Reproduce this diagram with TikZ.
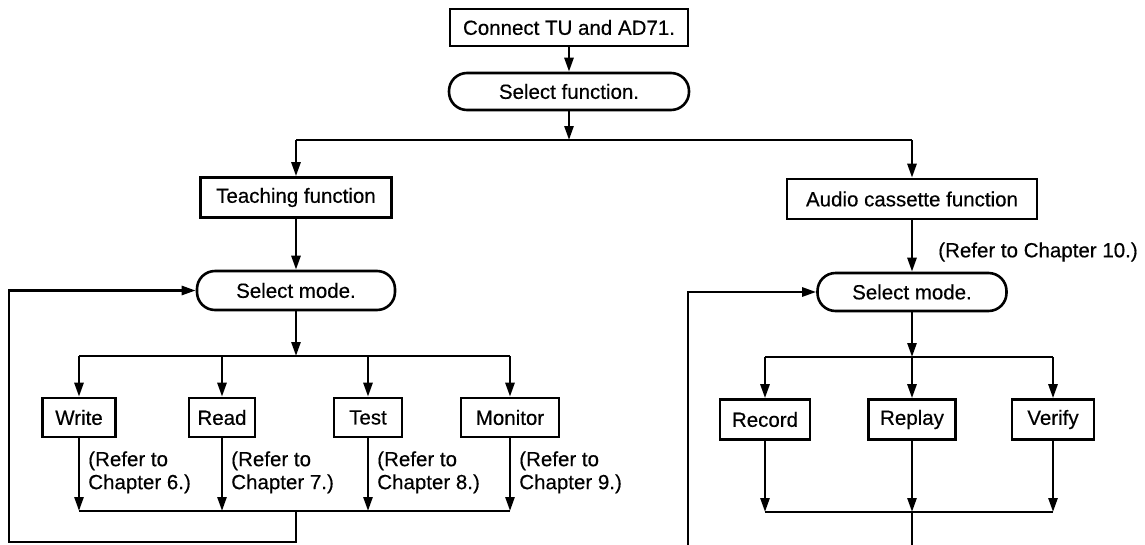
\documentclass[tikz,border=0pt]{standalone}
\usepackage{fontspec}
\setmainfont{Liberation Sans}
\newfontfamily\diafont[FakeBold=0.4]{Liberation Sans}
\usetikzlibrary{arrows.meta}
\begin{document}
\begin{tikzpicture}[x=1pt,y=-1pt,
  line width=2.6pt,
  txt/.style={font=\diafont\fontsize{20.5}{23}\selectfont},
  box/.style={txt,draw,rectangle,minimum height=39pt,inner sep=0pt,line width=2.6pt},
  term/.style={txt,draw,rectangle,rounded corners=18pt,minimum height=38pt,inner sep=0pt,line width=2.6pt},
  arr/.style={-{Triangle[length=14pt,width=9pt]}},
  note/.style={txt,align=left,anchor=north west,inner sep=0pt}
]
\useasboundingbox (0,0) rectangle (1145,544);

% top
\node[box,minimum width=238pt,minimum height=37pt] (connect) at (569,27.5) {Connect TU and AD71.};
\node[term,minimum width=240pt,minimum height=37pt] (selfun) at (569,91.5) {Select function.};
\coordinate (j1) at (569,140);
\coordinate (tL) at (296,140);
\coordinate (tR) at (912,140);

\node[box,minimum width=191pt,minimum height=40pt] (teach) at (296,197.5) {Teaching function};
\node[box,minimum width=250pt,minimum height=40pt] (audio) at (912,199) {Audio cassette function};
\node[txt,anchor=west,inner sep=0pt] (n10) at (937,252) {(Refer to Chapter 10.)};

\node[term,minimum width=198pt,minimum height=39pt] (smL) at (296,290.5) {Select mode.};
\node[term,minimum width=189pt,minimum height=38pt] (smR) at (912,292) {Select mode.};

% left branch
\coordinate (bL) at (296,356);
\node[box,minimum width=73pt] (write) at (79,417.5) {Write};
\node[box,minimum width=66pt] (read) at (222,417.5) {Read};
\node[box,minimum width=68pt] (test) at (368,417.5) {Test};
\node[box,minimum width=98pt] (monitor) at (510,417.5) {Monitor};
\coordinate (bLw) at (79,356);
\coordinate (bLm) at (510,356);

\node[note] (n6) at (87,450) {(Refer to\\Chapter 6.)};
\node[note] (n7) at (230,450) {(Refer to\\Chapter 7.)};
\node[note] (n8) at (376,450) {(Refer to\\Chapter 8.)};
\node[note] (n9) at (518,450) {(Refer to\\Chapter 9.)};

\coordinate (mL) at (296,511);
\coordinate (mLw) at (79,511);
\coordinate (mLm) at (510,511);
\coordinate (lB) at (9,542);

% right branch
\coordinate (bR) at (912,357);
\node[box,minimum width=90pt,minimum height=40pt] (record) at (765,419.5) {Record};
\node[box,minimum width=87pt,minimum height=40pt] (replay) at (912,419.5) {Replay};
\node[box,minimum width=82pt,minimum height=40pt] (verify) at (1053,419.5) {Verify};
\coordinate (bRr) at (765,357);
\coordinate (bRv) at (1053,357);
\coordinate (mR) at (912,512);
\coordinate (mRr) at (765,512);
\coordinate (mRv) at (1053,512);
\coordinate (rB) at (688,548);
\coordinate (rC) at (912,548);

% connectors top
\draw[arr] (connect) -- (selfun);
\draw[arr] (selfun) -- (j1);
\draw (tL) -- (tR);
\draw[arr] (tL) -- (teach);
\draw[arr] (tR) -- (audio);
\draw[arr] (teach) -- (smL);
\draw[arr] (audio) -- (smR);

% left mode block
\draw[arr] (smL) -- (bL);
\draw (bLw) -- (bLm);
\draw[arr] (bLw) -- (write);
\draw[arr] (read |- bL) -- (read);
\draw[arr] (test |- bL) -- (test);
\draw[arr] (bLm) -- (monitor);
\draw[arr] (write) -- (mLw);
\draw[arr] (read) -- (read |- mL);
\draw[arr] (test) -- (test |- mL);
\draw[arr] (monitor) -- (mLm);
\draw (mLw) -- (mLm);
\draw[arr] (mL) |- (lB) |- (smL.west);

% right mode block
\draw[arr] (smR) -- (bR);
\draw (bRr) -- (bRv);
\draw[arr] (bRr) -- (record);
\draw[arr] (bR) -- (replay);
\draw[arr] (bRv) -- (verify);
\draw[arr] (record) -- (mRr);
\draw[arr] (replay) -- (mR);
\draw[arr] (verify) -- (mRv);
\draw (mRr) -- (mRv);
\draw (mR) -- (rC);
\draw[arr] (rB) |- (smR.west);
\end{tikzpicture}
\end{document}
